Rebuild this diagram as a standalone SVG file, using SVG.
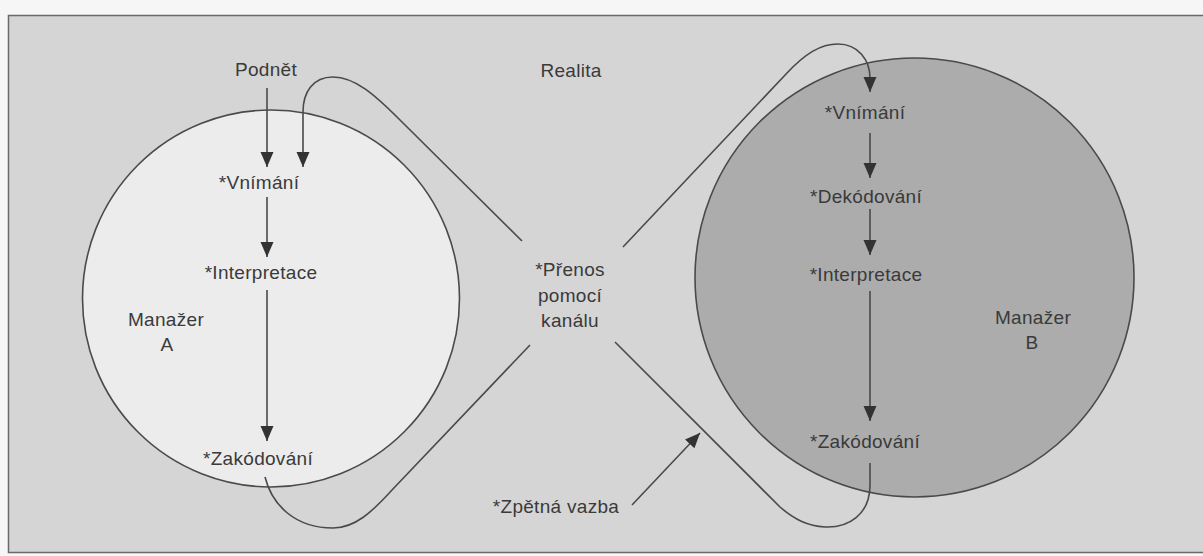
<svg xmlns="http://www.w3.org/2000/svg" width="1203" height="556" viewBox="0 0 1203 556">
<style>
  .t { font-family: "Liberation Sans", Arial, sans-serif; font-size: 19px; fill: #3a3a3a; text-anchor: middle; letter-spacing: 0.3px; }
  .c { stroke: #4a4a4a; stroke-width: 1.6; fill: none; }
  .circ { stroke: #4a4a4a; stroke-width: 1.6; }
</style>
<defs>
  <marker id="ah" markerUnits="userSpaceOnUse" markerWidth="16" markerHeight="14" refX="15" refY="6.5" orient="auto">
    <path d="M0,0 L15,6.5 L0,13 z" fill="#333"/>
  </marker>
</defs>
<rect x="0" y="0" width="1203" height="556" fill="#f6f6f6"/>
<rect x="8.5" y="15.5" width="1200" height="537" fill="#d5d5d5" stroke="#6a6a6a" stroke-width="1.5"/>

<g id="manazer-a">
  <circle class="circ" cx="271" cy="298.5" r="188.5" fill="#ececec"/>
  <text class="t" x="166" y="326">Manažer</text>
  <text class="t" x="167" y="351">A</text>
</g>
<g id="manazer-b">
  <circle class="circ" cx="914.5" cy="277.5" r="219.5" fill="#acacac"/>
  <text class="t" x="1033" y="324">Manažer</text>
  <text class="t" x="1032" y="349">B</text>
</g>

<g id="podnet"><text class="t" x="266" y="76">Podnět</text></g>
<g id="realita"><text class="t" x="571" y="77">Realita</text></g>
<g id="a-vnimani"><text class="t" x="259" y="189">*Vnímání</text></g>
<g id="a-interpretace"><text class="t" x="261" y="279">*Interpretace</text></g>
<g id="a-zakodovani"><text class="t" x="258" y="465">*Zakódování</text></g>
<g id="prenos">
  <text class="t" x="570" y="276">*Přenos</text>
  <text class="t" x="570" y="302">pomocí</text>
  <text class="t" x="570" y="327">kanálu</text>
</g>
<g id="zpetna-vazba"><text class="t" x="556" y="513">*Zpětná vazba</text></g>
<g id="b-vnimani"><text class="t" x="865" y="119">*Vnímání</text></g>
<g id="b-dekodovani"><text class="t" x="866" y="203">*Dekódování</text></g>
<g id="b-interpretace"><text class="t" x="866" y="281">*Interpretace</text></g>
<g id="b-zakodovani"><text class="t" x="865" y="448">*Zakódování</text></g>

<g id="connectors">
  <path class="c" d="M267,88 L267,167" marker-end="url(#ah)"/>
  <path class="c" d="M267,197 L267,257" marker-end="url(#ah)"/>
  <path class="c" d="M267,290 L267,441" marker-end="url(#ah)"/>
  <path class="c" d="M522,241 L400,120 C375,95 355,77 333,77 C313,77 303,92 303,112 L303,167" marker-end="url(#ah)"/>
  <path class="c" d="M623,247 L787,73 C805,54 820,44 838,44 C858,44 870,60 870,78 L870,92" marker-end="url(#ah)"/>
  <path class="c" d="M870,133 L870,178" marker-end="url(#ah)"/>
  <path class="c" d="M870,209 L870,255" marker-end="url(#ah)"/>
  <path class="c" d="M870,291 L870,421" marker-end="url(#ah)"/>
  <path class="c" d="M265,477 C272,505 295,528 333,528 C355,528 372,512 392,490 L530,345"/>
  <path class="c" d="M870,463 L870,485 C870,515 848,528 825,527 C808,526 795,520 780,507 L615,342"/>
  <path class="c" d="M632,505 L700,433" marker-end="url(#ah)"/>
</g>
</svg>
